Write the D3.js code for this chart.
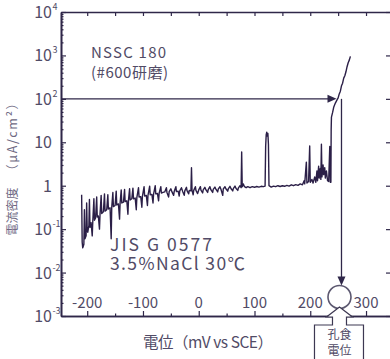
<!DOCTYPE html>
<html>
<head>
<meta charset="utf-8">
<script src="https://cdn.jsdelivr.net/npm/d3@7"></script>
<style>
  body { margin: 0; background: #fff; }
  svg { display: block; }
  text { font-family: "Noto Sans CJK JP", "Noto Sans", sans-serif; }
</style>
</head>
<body>
<div id="chart"></div>
<script>
// decades shown on the current density axis (10^n)
const yDecades = [-3, -2, -1, 0, 1, 2, 3, 4];
const xTickValues = [-200, -100, 0, 100, 200, 300];
const xMinorTicks = [-150, -50, 50, 150, 250];
const xTopTicks = [-200, -150, -100, -50, 0, 50, 100, 150, 200, 250, 300];

// [potential mV vs SCE, current density uA/cm2]
const activeRegion = [
  [-210, 0.62], [-209, 0.05], [-208, 0.037], [-206, 0.045], [-205, 0.28], [-204, 0.06],
  [-202, 0.07], [-201, 0.4], [-200, 0.1], [-199, 0.085], [-197, 0.12], [-196, 0.48],
  [-195, 0.11], [-193, 0.14], [-191, 0.07], [-190, 0.15], [-188, 0.5], [-187, 0.16],
  [-185, 0.18], [-183, 0.55], [-182, 0.19], [-180, 0.2], [-178, 0.1], [-177, 0.22],
  [-175, 0.6], [-174, 0.23], [-171, 0.25], [-169, 0.65], [-168, 0.26], [-165, 0.28],
  [-163, 0.62], [-162, 0.29], [-159, 0.31], [-157, 0.06], [-156, 0.32], [-154, 0.7],
  [-153, 0.33], [-150, 0.35], [-148, 0.75], [-147, 0.36], [-144, 0.38], [-142, 0.17],
  [-141, 0.4], [-139, 0.8], [-138, 0.4], [-135, 0.42], [-133, 0.82], [-132, 0.43],
  [-129, 0.45], [-127, 0.22], [-126, 0.46], [-124, 0.85], [-123, 0.47], [-120, 0.5],
  [-118, 0.88], [-117, 0.5], [-114, 0.52], [-112, 0.28], [-111, 0.53], [-108, 0.9],
  [-107, 0.55], [-104, 0.56], [-102, 0.32], [-101, 0.57], [-98, 0.95], [-97, 0.58],
  [-94, 0.6], [-92, 0.35], [-91, 0.6], [-88, 0.98], [-87, 0.62], [-84, 0.63],
  [-82, 0.4], [-81, 0.64], [-78, 1.0], [-77, 0.65], [-74, 0.66], [-72, 0.45],
  [-71, 0.67], [-68, 0.95], [-67, 0.68], [-64, 0.7]
];
const passiveRegion = [
  [-61, 0.72], [-58, 0.9], [-57, 0.7], [-54, 0.55], [-53, 0.73], [-50, 0.85], [-48, 0.72],
  [-45, 0.6], [-44, 0.74], [-41, 0.95], [-40, 0.73], [-37, 0.75], [-35, 0.58], [-34, 0.76],
  [-31, 0.9], [-29, 0.75], [-26, 0.6], [-25, 0.76], [-22, 0.92], [-21, 0.77], [-18, 0.65],
  [-17, 0.78], [-14, 0.76], [-13, 2.6], [-12, 0.78], [-10, 0.62], [-9, 0.78], [-6, 0.95],
  [-5, 0.78], [-2, 0.66], [0, 0.8], [3, 0.95], [4, 0.79], [7, 0.68], [8, 0.8], [11, 0.92],
  [13, 0.8], [16, 0.7], [17, 0.81], [20, 0.95], [22, 0.8], [25, 0.7], [26, 0.82], [29, 0.93],
  [31, 0.82], [34, 0.72], [35, 0.83], [38, 0.95], [40, 0.82], [43, 0.6], [44, 0.84],
  [47, 0.95], [49, 0.84], [52, 0.75], [53, 0.85], [56, 0.97], [58, 0.85], [61, 0.76],
  [62, 0.86], [65, 0.98], [67, 0.86], [70, 0.78], [71, 0.88], [74, 1.0], [76, 0.9],
  [77, 6.0], [78, 0.95], [80, 1.1], [82, 0.95], [85, 0.9], [88, 0.95], [92, 0.9],
  [96, 0.95], [100, 0.92], [104, 0.96], [108, 0.93], [112, 0.97], [116, 0.95], [119, 0.98],
  [120, 8], [121, 15], [122, 17], [123, 14], [124, 16], [125, 9], [126, 1.0], [130, 0.93],
  [134, 0.98], [138, 0.95], [142, 1.0], [146, 0.96], [150, 1.0], [154, 0.97], [158, 1.02],
  [162, 0.98], [166, 1.05], [170, 1.0], [174, 1.06], [178, 1.02], [182, 1.1], [186, 1.05],
  [189, 1.3], [190, 1.1], [193, 3.5], [194, 1.15], [197, 1.25], [199, 8.2], [200, 1.2],
  [203, 1.4], [205, 1.15], [208, 1.6], [210, 1.2], [212, 2.2], [213, 1.3], [215, 2.8],
  [216, 1.5], [218, 2.5], [219, 1.4], [220, 9], [221, 1.6], [223, 3.0], [224, 1.8],
  [226, 2.6], [227, 1.5], [229, 2.2], [231, 1.3], [233, 1.25], [235, 8], [236, 1.2]
];
const pittingRise = [
  [237, 1.2], [237.5, 20], [238, 38], [240, 48], [242, 64], [245, 80], [248, 95],
  [250, 105], [252, 130], [254, 150], [256, 200], [258, 230], [260, 300], [262, 340],
  [264, 420], [266, 550], [268, 680], [270, 780], [272, 950]
];

const pittingPotential = 256;   // mV
const pittingCurrent = 100;     // uA/cm2
const specimenLabel = ["NSSC 180", "(#600研磨)"];
const testLabel = ["JIS  G 0577", "3.5%NaCl  30℃"];
const calloutLabel = ["孔食", "電位"];

const width = 390, height = 359;
const lineColor = "#2f2749";
const textColor = "#514b66";

const svg = d3.select("#chart").append("svg")
  .attr("width", width)
  .attr("height", height);

const x = d3.scaleLinear().domain([-247, 343]).range([61, 390]);
const y = d3.scaleLog().domain([1e-3, 1e4]).range([316, 12]);

const decadeValues = yDecades.map(e => Math.pow(10, e));
const minorY = y.ticks().filter(v => !decadeValues.some(d => Math.abs(d - v) < d * 1e-6));

function styleAxis(g) {
  g.selectAll("path").attr("stroke", lineColor).attr("stroke-width", 1.6);
  g.selectAll("line").attr("stroke", lineColor).attr("stroke-width", 1.2);
  g.selectAll("text").remove();
}

// left axis
svg.append("g").attr("transform", "translate(61,0)")
  .call(d3.axisLeft(y).tickValues(minorY).tickSize(-2.5).tickSizeOuter(0).tickFormat(""))
  .call(styleAxis);
svg.append("g").attr("transform", "translate(61,0)")
  .call(d3.axisLeft(y).tickValues(decadeValues).tickSize(-5).tickSizeOuter(0).tickFormat(""))
  .call(styleAxis);
// right axis (edge just outside the picture)
svg.append("g").attr("transform", "translate(391,0)")
  .call(d3.axisRight(y).tickValues(decadeValues).tickSize(-5).tickSizeOuter(0).tickFormat(""))
  .call(styleAxis);
// bottom axis
svg.append("g").attr("transform", "translate(0,316)")
  .call(d3.axisBottom(x).tickValues(xMinorTicks).tickSize(-2.5).tickSizeOuter(0).tickFormat(""))
  .call(styleAxis);
svg.append("g").attr("transform", "translate(0,316)")
  .call(d3.axisBottom(x).tickValues(xTickValues).tickSize(-5).tickSizeOuter(0).tickFormat(""))
  .call(styleAxis);
// top axis
svg.append("g").attr("transform", "translate(0,12)")
  .call(d3.axisTop(x).tickValues(xTopTicks).tickSize(-4).tickSizeOuter(0).tickFormat(""))
  .call(styleAxis);

// y tick labels with superscripts
yDecades.forEach(e => {
  const py = y(Math.pow(10, e));
  const base = e === 0 ? "1" : "10";
  svg.append("text")
    .attr("x", 52).attr("y", py + 6)
    .attr("text-anchor", "end")
    .attr("font-size", 16)
    .attr("fill", textColor)
    .text(base);
  if (e !== 0 && e !== 1) {
    svg.append("text")
      .attr("x", 52.5).attr("y", py - 2)
      .attr("font-size", 9)
      .attr("fill", textColor)
      .text(e);
  }
});

// x tick labels sit inside the plot above the axis
svg.selectAll(".xlab").data(xTickValues).enter().append("text")
  .attr("x", d => x(d))
  .attr("y", 308)
  .attr("text-anchor", "middle")
  .attr("font-size", 15)
  .attr("fill", textColor)
  .text(d => d);

// axis titles
svg.append("text")
  .attr("transform", "translate(17,211.5) rotate(-90)")
  .attr("text-anchor", "middle")
  .attr("font-size", 12)
  .attr("fill", "#6d6882")
  .text("電流密度");
svg.append("text")
  .attr("transform", "translate(17,137) rotate(-90)")
  .attr("text-anchor", "middle")
  .attr("font-size", 12.5)
  .attr("textLength", 80)
  .attr("lengthAdjust", "spacing")
  .attr("fill", "#6d6882")
  .text("（μA/cm²）");
svg.append("text")
  .attr("x", 143).attr("y", 348)
  .attr("font-size", 15.5)
  .attr("textLength", 130)
  .attr("lengthAdjust", "spacing")
  .attr("fill", textColor)
  .text("電位（mV vs SCE）");

// polarization curve
const curve = activeRegion.concat(passiveRegion, pittingRise);
const line = d3.line().x(d => x(d[0])).y(d => y(d[1]));
svg.append("path")
  .datum(curve)
  .attr("d", line)
  .attr("fill", "none")
  .attr("stroke", "#2b1f47")
  .attr("stroke-width", 1.4)
  .attr("stroke-linejoin", "round");

// horizontal arrow at the pitting current
const px = x(pittingPotential);
const py = y(pittingCurrent);
svg.append("line")
  .attr("x1", 61).attr("y1", py).attr("x2", px - 10).attr("y2", py)
  .attr("stroke", lineColor).attr("stroke-width", 1.3);
svg.append("path")
  .attr("d", `M${px - 5},${py} L${px - 14},${py - 4} L${px - 14},${py + 4} Z`)
  .attr("fill", lineColor);

// vertical arrow down to the circle on the axis
const cy = 297, r = 11.5;
svg.append("line")
  .attr("x1", px).attr("y1", py).attr("x2", px).attr("y2", cy - r - 6)
  .attr("stroke", lineColor).attr("stroke-width", 1.3);
svg.append("path")
  .attr("d", `M${px},${cy - r} L${px - 4},${cy - r - 9} L${px + 4},${cy - r - 9} Z`)
  .attr("fill", lineColor);
svg.append("circle")
  .attr("cx", px - 2).attr("cy", cy).attr("r", r)
  .attr("fill", "none")
  .attr("stroke", "#5c5870")
  .attr("stroke-width", 1.6);

// callout box pointing up at the circle
const cx = px - 2;
svg.append("path")
  .attr("d", `M${cx - 25},${height + 2} L${cx - 25},325 L${cx - 7},325 L${cx - 7},317 L${cx - 13},317 ` +
             `L${cx},307 L${cx + 13},317 L${cx + 7},317 L${cx + 7},325 L${cx + 24},325 L${cx + 24},${height + 2}`)
  .attr("fill", "#fff")
  .attr("stroke", "#3d3852")
  .attr("stroke-width", 1.2);
calloutLabel.forEach((t, i) => {
  svg.append("text")
    .attr("x", cx).attr("y", 339 + i * 16)
    .attr("text-anchor", "middle")
    .attr("font-size", 12)
    .attr("fill", textColor)
    .text(t);
});

// annotations
specimenLabel.forEach((t, i) => {
  svg.append("text")
    .attr("x", 91).attr("y", 58 + i * 20)
    .attr("font-size", 15)
    .attr("textLength", i === 0 ? 75 : 77)
    .attr("lengthAdjust", "spacing")
    .attr("fill", textColor)
    .text(t);
});
testLabel.forEach((t, i) => {
  svg.append("text")
    .attr("x", 110).attr("y", 251 + i * 19)
    .attr("font-size", 17.5)
    .attr("textLength", i === 0 ? 102 : 135)
    .attr("lengthAdjust", "spacing")
    .attr("fill", textColor)
    .text(t);
});
</script>
</body>
</html>
